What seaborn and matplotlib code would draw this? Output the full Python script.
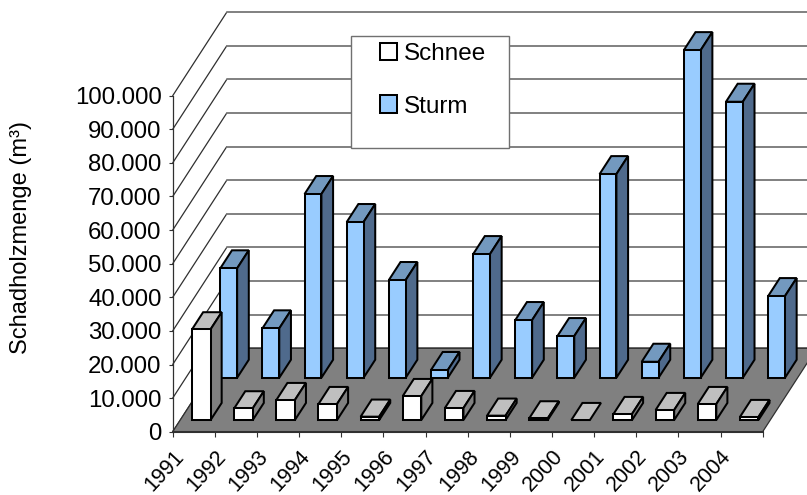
import numpy as np
import pandas as pd
import matplotlib
matplotlib.use("Agg")
import matplotlib.pyplot as plt
from matplotlib.patches import Patch, Rectangle
from matplotlib.ticker import FuncFormatter
import seaborn as sns

years = [str(y) for y in range(1991, 2005)]
schnee = [27000, 3480, 5950, 4760, 1000, 7140, 3570, 1300, 500, 0, 1790, 2980, 4760, 900]
sturm = [32560, 14700, 54670, 46340, 29080, 2300, 36800, 17170, 12400, 60600, 4760, 97500, 82140, 24300]
y_ticks = list(range(0, 110000, 10000))
series_names = ["Schnee", "Sturm"]
y_label = "Schadholzmenge (m³)"

W, H = 807, 495
sns.set_theme(style="white")
plt.rcParams["font.family"] = ["Liberation Sans", "DejaVu Sans"]
plt.rcParams["text.color"] = "black"

fig = plt.figure(figsize=(W / 100, H / 100), dpi=100, facecolor="white")
ax = fig.add_axes([172.7 / W, (H - 431.7) / H, 590 / W, 336 / H])

n = len(years)
x0, x1 = -0.5, n - 0.5
px_x = 590 / n
px_y = 336 / 100000
DX = 54 / px_x       # depth offset, category units
DY = 83.4 / px_y     # depth offset, value units
EDGE = 1.45


def proj(x, v, d):
    return x + d * DX, v + d * DY


# walls and floor
GRID = "#808080"
for v in y_ticks:
    ax.plot(*zip(proj(x0, v, 0), proj(x0, v, 1)), color="#303030", lw=0.9, clip_on=False, zorder=1)
    ax.plot(*zip(proj(x0, v, 1), proj(x1, v, 1)), color=GRID, lw=1.4, clip_on=False, zorder=1)
floor = [proj(x0, 0, 0), proj(x1, 0, 0), proj(x1, 0, 1), proj(x0, 0, 1)]
ax.fill(*zip(*floor), facecolor=GRID, edgecolor="#303030", lw=0.9, clip_on=False, zorder=2)


def draw_series(values, d0, d1, width, front, top, side, z):
    idx = np.arange(n)
    offset_x, offset_y = d0 * DX, d0 * DY
    df = pd.DataFrame({"x": idx + offset_x, "v": values})
    sns.barplot(data=df, x="x", y="v", native_scale=True, width=width, color=front,
                saturation=1, errorbar=None, bottom=offset_y, edgecolor="black",
                linewidth=EDGE, clip_on=False, zorder=z + 1, ax=ax)
    for i, v in zip(idx, values):
        l, r = i - width / 2, i + width / 2
        top_face = [proj(l, v, d0), proj(r, v, d0), proj(r, v, d1), proj(l, v, d1)]
        ax.fill(*zip(*top_face), facecolor=top, edgecolor="black", lw=EDGE, clip_on=False, zorder=z)
        if v > 0:
            side_face = [proj(r, 0, d0), proj(r, v, d0), proj(r, v, d1), proj(r, 0, d1)]
            ax.fill(*zip(*side_face), facecolor=side, edgecolor="black", lw=EDGE, clip_on=False, zorder=z)


draw_series(sturm, 0.647, 0.863, 0.40, "#99CCFF", "#7399BF", "#4F6A8C", 3)
draw_series(schnee, 0.14, 0.345, 0.44, "#FFFFFF", "#BFBFBF", "#808080", 6)

ax.set_xlim(x0, x1)
ax.set_ylim(0, 100000)
ax.set_xticks(np.arange(n + 1) - 0.5)
ax.set_xticklabels(years + [""], rotation=47, ha="right", va="top", rotation_mode="anchor",
                   fontsize=15.5)
ax.set_yticks(y_ticks)
ax.yaxis.set_major_formatter(FuncFormatter(lambda v, _: f"{int(v):,}".replace(",", ".")))
ax.tick_params(axis="y", left=True, length=3, width=0.8, color="#303030", labelsize=17.3, pad=5, labelcolor="black")
ax.tick_params(axis="x", bottom=True, length=3.5, width=0.8, color="#303030", pad=6.8, labelcolor="black")
ax.set_xlabel("")
ax.set_ylabel("")
ax.patch.set_alpha(0)
sns.despine(ax=ax, top=True, right=True)
ax.spines["left"].set_color("#303030")
ax.spines["left"].set_linewidth(0.9)
ax.spines["bottom"].set_color("#303030")
ax.spines["bottom"].set_linewidth(1.5)
ax.spines["bottom"].set_zorder(2.5)

fig.text(21 / W, 1 - 238 / H, y_label, rotation=90, ha="center", va="center", fontsize=17, color="black")

# legend box
box = Rectangle((351 / W, 1 - 148 / H), 158 / W, 112 / H, transform=fig.transFigure,
                facecolor="white", edgecolor="#707070", lw=1.0, zorder=20, clip_on=False)
ax.add_patch(box)
handles = [Patch(facecolor="#FFFFFF", edgecolor="black", lw=EDGE),
           Patch(facecolor="#99CCFF", edgecolor="black", lw=EDGE)]
leg = ax.legend(handles, series_names, loc="upper left", bbox_to_anchor=(375 / W, 1 - 38 / H),
                bbox_transform=fig.transFigure, frameon=False, fontsize=17.5, borderpad=0,
                borderaxespad=0.2, handlelength=0.72, handleheight=0.72, handletextpad=0.25,
                labelspacing=1.25)
leg.set_zorder(21)
for t in leg.get_texts():
    t.set_color("black")

fig.savefig("out.png", dpi=100)
